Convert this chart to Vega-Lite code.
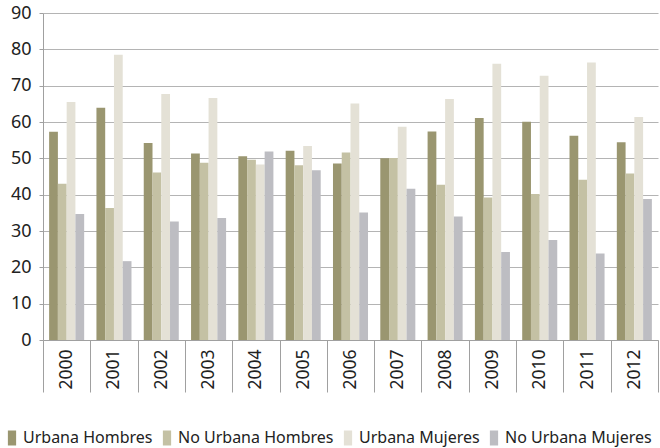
{
  "$schema": "https://vega.github.io/schema/vega-lite/v6.json",
  "width": 615,
  "height": 327,
  "autosize": {"type": "none"},
  "padding": {"left": 43, "top": 13, "right": 2, "bottom": 108},
  "background": "white",
  "config": {"view": {"stroke": null}, "font": "Noto Sans"},
  "data": {
    "values": [
      {"year": "2000", "serie": "Urbana Hombres", "value": 57.3},
      {"year": "2000", "serie": "No Urbana Hombres", "value": 43.0},
      {"year": "2000", "serie": "Urbana Mujeres", "value": 65.5},
      {"year": "2000", "serie": "No Urbana Mujeres", "value": 34.7},
      {"year": "2001", "serie": "Urbana Hombres", "value": 63.9},
      {"year": "2001", "serie": "No Urbana Hombres", "value": 36.3},
      {"year": "2001", "serie": "Urbana Mujeres", "value": 78.5},
      {"year": "2001", "serie": "No Urbana Mujeres", "value": 21.7},
      {"year": "2002", "serie": "Urbana Hombres", "value": 54.2},
      {"year": "2002", "serie": "No Urbana Hombres", "value": 46.1},
      {"year": "2002", "serie": "Urbana Mujeres", "value": 67.7},
      {"year": "2002", "serie": "No Urbana Mujeres", "value": 32.6},
      {"year": "2003", "serie": "Urbana Hombres", "value": 51.3},
      {"year": "2003", "serie": "No Urbana Hombres", "value": 48.8},
      {"year": "2003", "serie": "Urbana Mujeres", "value": 66.6},
      {"year": "2003", "serie": "No Urbana Mujeres", "value": 33.6},
      {"year": "2004", "serie": "Urbana Hombres", "value": 50.6},
      {"year": "2004", "serie": "No Urbana Hombres", "value": 49.6},
      {"year": "2004", "serie": "Urbana Mujeres", "value": 48.3},
      {"year": "2004", "serie": "No Urbana Mujeres", "value": 51.9},
      {"year": "2005", "serie": "Urbana Hombres", "value": 52.1},
      {"year": "2005", "serie": "No Urbana Hombres", "value": 48.1},
      {"year": "2005", "serie": "Urbana Mujeres", "value": 53.4},
      {"year": "2005", "serie": "No Urbana Mujeres", "value": 46.7},
      {"year": "2006", "serie": "Urbana Hombres", "value": 48.6},
      {"year": "2006", "serie": "No Urbana Hombres", "value": 51.6},
      {"year": "2006", "serie": "Urbana Mujeres", "value": 65.1},
      {"year": "2006", "serie": "No Urbana Mujeres", "value": 35.1},
      {"year": "2007", "serie": "Urbana Hombres", "value": 50.0},
      {"year": "2007", "serie": "No Urbana Hombres", "value": 50.1},
      {"year": "2007", "serie": "Urbana Mujeres", "value": 58.7},
      {"year": "2007", "serie": "No Urbana Mujeres", "value": 41.6},
      {"year": "2008", "serie": "Urbana Hombres", "value": 57.4},
      {"year": "2008", "serie": "No Urbana Hombres", "value": 42.7},
      {"year": "2008", "serie": "Urbana Mujeres", "value": 66.3},
      {"year": "2008", "serie": "No Urbana Mujeres", "value": 34.0},
      {"year": "2009", "serie": "Urbana Hombres", "value": 61.1},
      {"year": "2009", "serie": "No Urbana Hombres", "value": 39.2},
      {"year": "2009", "serie": "Urbana Mujeres", "value": 76.0},
      {"year": "2009", "serie": "No Urbana Mujeres", "value": 24.2},
      {"year": "2010", "serie": "Urbana Hombres", "value": 60.1},
      {"year": "2010", "serie": "No Urbana Hombres", "value": 40.2},
      {"year": "2010", "serie": "Urbana Mujeres", "value": 72.7},
      {"year": "2010", "serie": "No Urbana Mujeres", "value": 27.5},
      {"year": "2011", "serie": "Urbana Hombres", "value": 56.2},
      {"year": "2011", "serie": "No Urbana Hombres", "value": 44.1},
      {"year": "2011", "serie": "Urbana Mujeres", "value": 76.4},
      {"year": "2011", "serie": "No Urbana Mujeres", "value": 23.8},
      {"year": "2012", "serie": "Urbana Hombres", "value": 54.4},
      {"year": "2012", "serie": "No Urbana Hombres", "value": 45.8},
      {"year": "2012", "serie": "Urbana Mujeres", "value": 61.4},
      {"year": "2012", "serie": "No Urbana Mujeres", "value": 38.8}
    ]
  },
  "mark": {"type": "bar"},
  "encoding": {
    "x": {
      "field": "year",
      "type": "nominal",
      "scale": {"paddingInner": 0, "paddingOuter": 0},
      "axis": {
        "title": null,
        "labelAngle": -90,
        "labelFont": "Noto Sans",
        "labelFontSize": 17.5,
        "labelColor": "#222222",
        "tickBand": "extent",
        "tickSize": 52,
        "tickColor": "#a0a0a0",
        "domainColor": "#a0a0a0",
        "labelPadding": -43
      }
    },
    "y": {
      "field": "value",
      "type": "quantitative",
      "scale": {"domain": [0, 90], "nice": false},
      "axis": {
        "title": null,
        "values": [0, 10, 20, 30, 40, 50, 60, 70, 80, 90],
        "grid": true,
        "gridColor": "#b4b4b4",
        "domainColor": "#a0a0a0",
        "tickColor": "#a0a0a0",
        "tickSize": 4,
        "labelFont": "Noto Sans",
        "labelFontSize": 18,
        "labelColor": "#222222",
        "labelPadding": 8
      }
    },
    "xOffset": {
      "field": "serie",
      "sort": ["Urbana Hombres", "No Urbana Hombres", "Urbana Mujeres", "No Urbana Mujeres"],
      "scale": {"paddingOuter": 0.7, "paddingInner": 0}
    },
    "color": {
      "field": "serie",
      "sort": ["Urbana Hombres", "No Urbana Hombres", "Urbana Mujeres", "No Urbana Mujeres"],
      "scale": {
        "domain": ["Urbana Hombres", "No Urbana Hombres", "Urbana Mujeres", "No Urbana Mujeres"],
        "range": ["#9a9670", "#c4c1a4", "#e4e1d6", "#bdbdc2"]
      },
      "legend": {
        "title": null,
        "orient": "none",
        "direction": "horizontal",
        "legendX": -39,
        "legendY": 417,
        "symbolType": "M-0.55,-1H0.55V1H-0.55Z",
        "symbolSize": 225,
        "symbolStrokeWidth": 0,
        "labelFont": "Noto Sans",
        "labelFontSize": 16,
        "labelColor": "#222222",
        "labelOffset": 3,
        "columnPadding": 6,
        "labelLimit": 200
      }
    }
  }
}
